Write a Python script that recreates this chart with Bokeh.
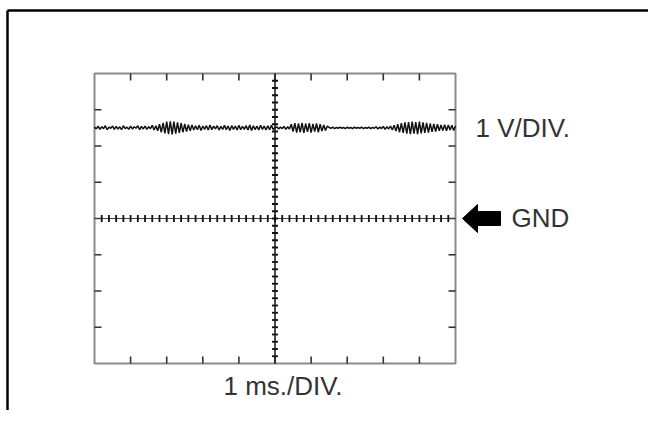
import numpy as np
from bokeh.plotting import figure
from bokeh.models import Range1d
from bokeh.core.properties import value
from bokeh.embed import file_html
from bokeh.resources import INLINE

# ---------------- data ----------------
x_divisions = 10          # 1 ms per division
y_divisions = 8           # 1 V per division, GND at centre
sample_step_ms = 0.05
time_ms = [round(-5 + sample_step_ms * i, 2) for i in range(201)]
signal_v = [
    2.52, 2.47, 2.55, 2.46, 2.53, 2.48, 2.56, 2.45, 2.52, 2.49,
    2.55, 2.46, 2.54, 2.47, 2.53, 2.45, 2.56, 2.48, 2.52, 2.46,
    2.55, 2.47, 2.53, 2.49, 2.56, 2.45, 2.54, 2.47, 2.55, 2.46,
    2.53, 2.48, 2.57, 2.44, 2.56,
    2.42, 2.60, 2.38, 2.64, 2.35, 2.67, 2.33, 2.68, 2.32, 2.67,
    2.34, 2.65, 2.36, 2.63, 2.38, 2.61, 2.40, 2.59, 2.42, 2.58,
    2.44, 2.56, 2.45, 2.57, 2.43, 2.55, 2.46, 2.56, 2.44, 2.58,
    2.45, 2.55, 2.47, 2.56, 2.44, 2.54, 2.46, 2.57, 2.45, 2.55,
    2.43, 2.56, 2.46, 2.55, 2.44, 2.57, 2.45, 2.54, 2.46, 2.56,
    2.44, 2.58, 2.43, 2.56, 2.45, 2.55, 2.44, 2.57, 2.46, 2.55,
    2.44, 2.56, 2.45, 2.57, 2.46, 2.50,
    2.53, 2.47, 2.52, 2.48, 2.54, 2.46, 2.53, 2.47,
    2.60, 2.40, 2.63, 2.37, 2.62, 2.38, 2.64, 2.36, 2.62, 2.39,
    2.63, 2.37, 2.61, 2.40, 2.62, 2.38, 2.60, 2.41, 2.58, 2.43, 2.55,
    2.51, 2.49, 2.52, 2.48, 2.51, 2.49, 2.52, 2.49, 2.51, 2.48,
    2.52, 2.49, 2.51, 2.48, 2.52, 2.49, 2.51, 2.49, 2.52, 2.48,
    2.51, 2.49, 2.52, 2.48, 2.51, 2.49, 2.53, 2.47, 2.52, 2.48,
    2.54, 2.46, 2.53, 2.47, 2.55,
    2.44, 2.57, 2.41, 2.60, 2.38, 2.63, 2.36, 2.65, 2.34, 2.66,
    2.33, 2.67, 2.34, 2.66, 2.33, 2.67, 2.35, 2.65, 2.36, 2.64,
    2.37, 2.62, 2.39, 2.61, 2.40, 2.60, 2.42, 2.58, 2.43, 2.59,
    2.42, 2.58, 2.44, 2.57, 2.43, 2.55,
]
gnd_v = 0.0
volt_label = "1 V/DIV."
time_label = "1 ms./DIV."
gnd_label = "GND"

# ---------------- layout ----------------
W, H = 648, 410
PXX, PXY = 36.1, 36.25            # pixels per division
CX, CY = 274.5, 218.0             # graticule centre in canvas px

def dx(px):   # canvas px -> data x
    return (px - CX) / PXX

def dy(py):   # canvas py -> data y
    return (CY - py) / PXY

p = figure(width=W, height=H, output_backend="svg", toolbar_location=None,
           x_range=Range1d(dx(0), dx(W)), y_range=Range1d(dy(H), dy(0)),
           min_border=0, x_axis_location=None, y_axis_location=None)
p.xgrid.visible = False
p.ygrid.visible = False
p.outline_line_color = None
p.background_fill_color = "white"

hx, hy = x_divisions / 2, y_divisions / 2

# outer page border (top + left)
p.line([dx(7), dx(W)], [dy(10), dy(10)], line_color="black", line_width=2.5)
p.line([dx(7), dx(7)], [dy(10), dy(H)], line_color="black", line_width=2.5)

# graticule frame
p.quad(left=-hx, right=hx, bottom=-hy, top=hy, fill_color=None,
       line_color="#8a8a8a", line_width=2)

# major ticks on frame edges
tlx, tly = 7 / PXX, 7 / PXY
xs, ys = [], []
for k in range(-int(hx) + 1, int(hx)):
    xs += [[k, k], [k, k]]
    ys += [[hy, hy - tly], [-hy, -hy + tly]]
for k in range(-int(hy) + 1, int(hy)):
    xs += [[-hx, -hx + tlx], [hx, hx - tlx]]
    ys += [[k, k], [k, k]]
p.multi_line(xs, ys, line_color="#333333", line_width=1.6)

# centre lines with minor ticks
p.line([0, 0], [-hy, hy], line_color="#222222", line_width=1.6)
p.line([-hx, hx], [gnd_v, gnd_v], line_color="#444444", line_width=1.2)
mx, my = 3 / PXX, 3.5 / PXY
mxs, mys = [], []
for j in range(1, int(hy * 5) * 2):
    v = -hy + j * 0.2
    mxs.append([-mx, mx]); mys.append([v, v])
for j in range(1, int(hx * 5) * 2):
    u = -hx + j * 0.2
    mxs.append([u, u]); mys.append([gnd_v - my, gnd_v + my])
p.multi_line(mxs, mys, line_color="#111111", line_width=1.8)

# signal trace
p.line(time_ms, signal_v, line_color="#111111", line_width=1.5)

# labels
font = value("Liberation Sans")
p.text(x=[dx(475)], y=[dy(127)], text=[volt_label], text_font=font,
       text_font_size="26px", text_color="#333333",
       text_align="left", text_baseline="middle")
p.text(x=[dx(511)], y=[dy(217)], text=[gnd_label], text_font=font,
       text_font_size="26px", text_color="#333333",
       text_align="left", text_baseline="middle")
p.text(x=[dx(223)], y=[dy(385)], text=[time_label], text_font=font,
       text_font_size="26px", text_color="#333333",
       text_align="left", text_baseline="middle")

# GND arrow
ax = [462, 477, 477, 500, 500, 477, 477]
ay = [218, 204, 211, 211, 225, 225, 232]
p.patch([dx(v) for v in ax], [dy(v) for v in ay], fill_color="black",
        line_color="black", line_width=1)

open("out.html", "w").write(file_html(p, INLINE))
